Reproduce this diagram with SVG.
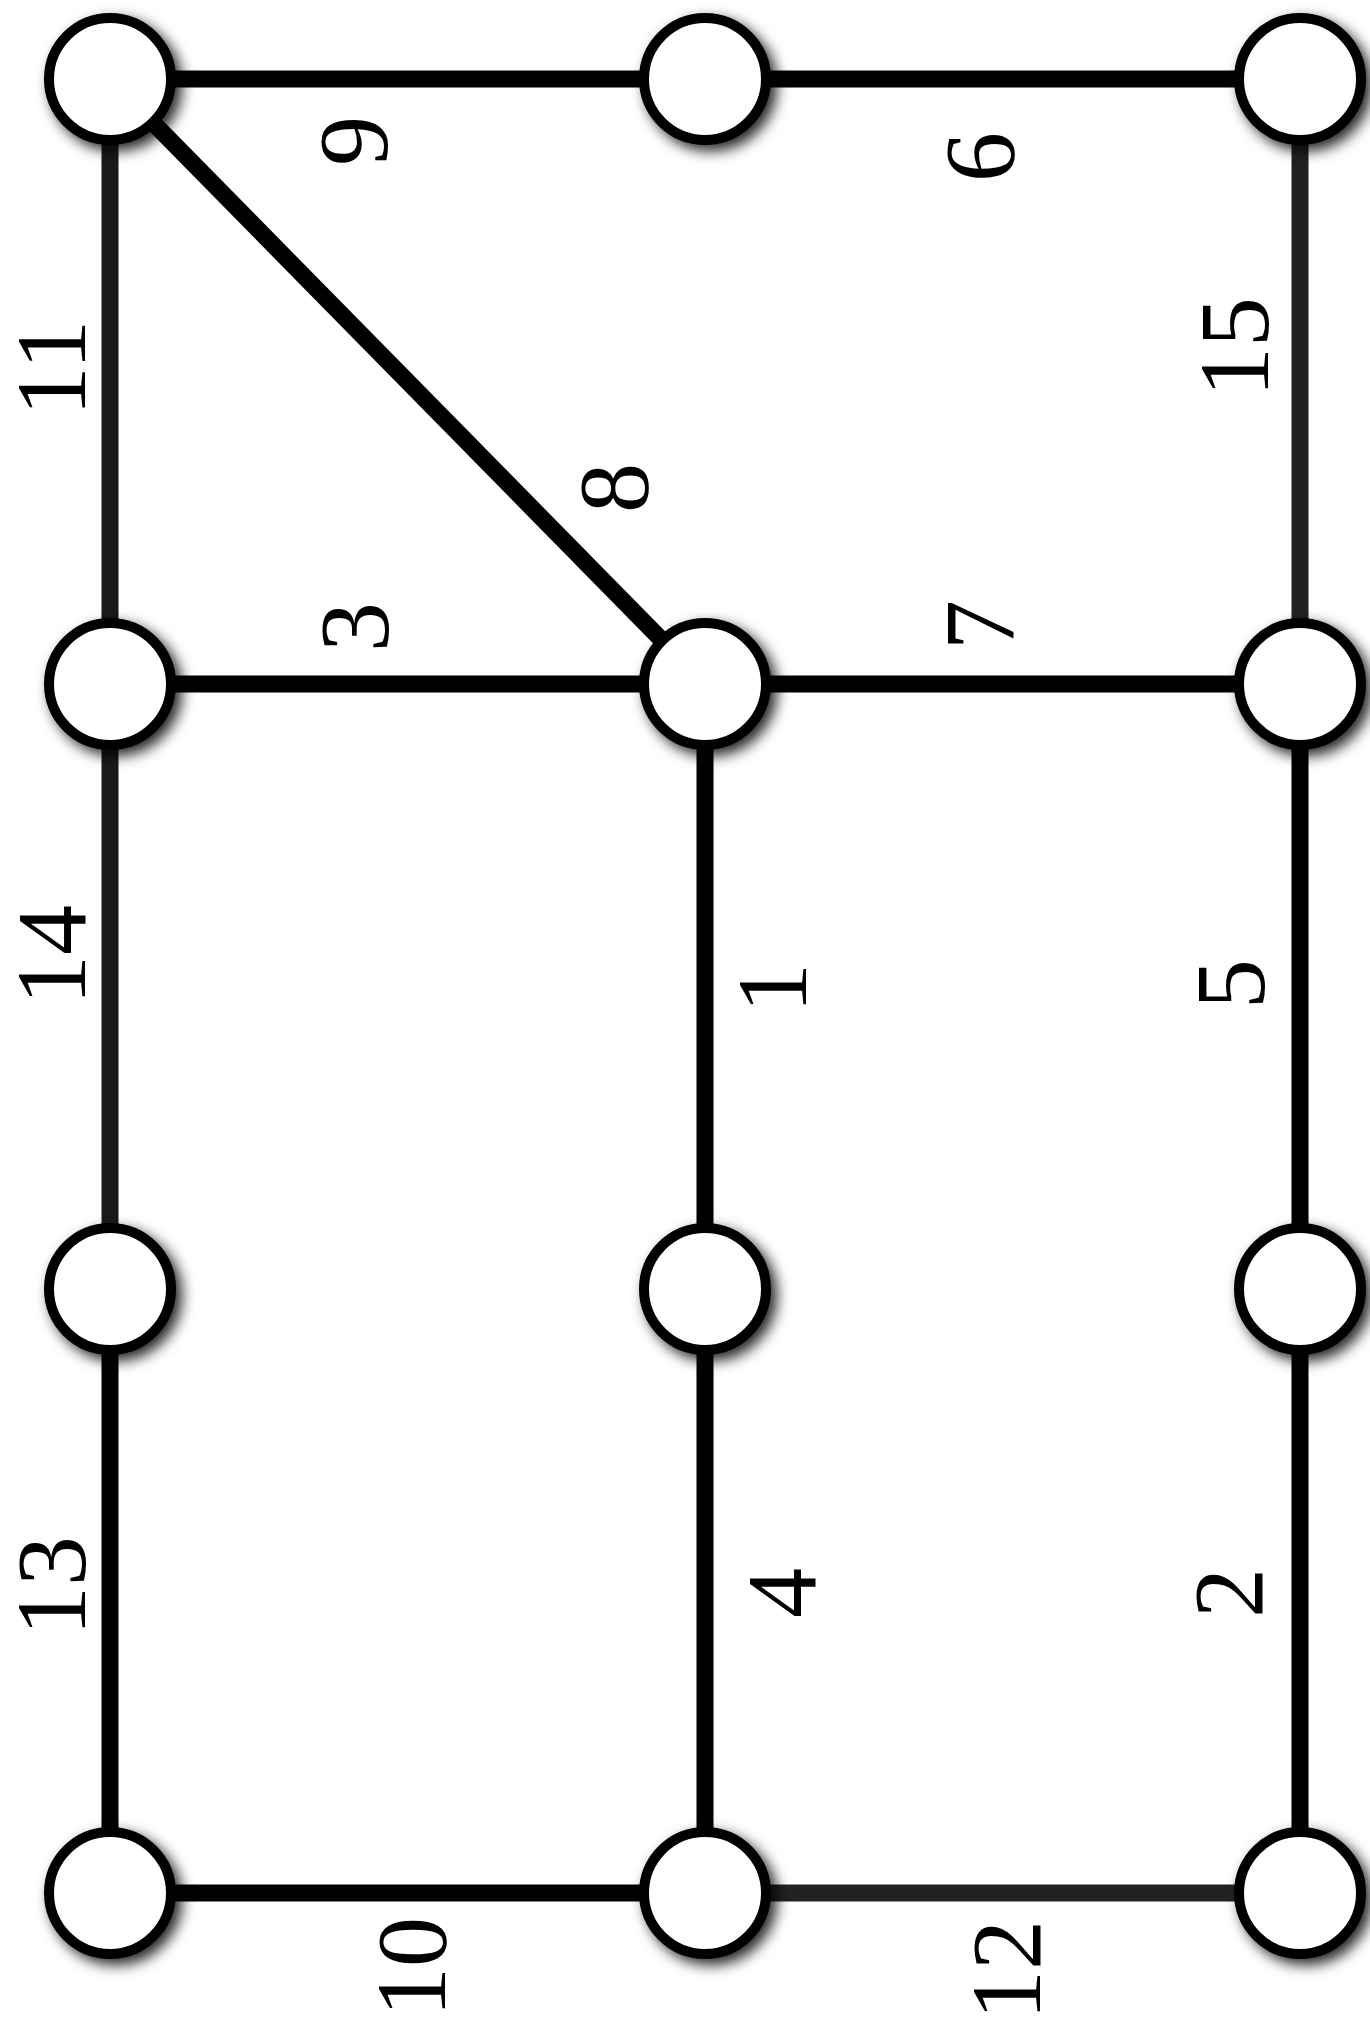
<svg xmlns="http://www.w3.org/2000/svg" width="1370" height="2022" viewBox="0 0 1370 2022">
<style>
.e{stroke:#000;stroke-width:17;fill:none}
.g1{stroke:#1a1a1a}
.g2{stroke:#222}
.n{fill:#fff;stroke:#000;stroke-width:10;filter:url(#sh)}
.l{font-family:"Liberation Serif","Times New Roman",serif;font-size:100px;fill:#000;text-anchor:middle}
</style>
<defs>
<filter id="sh" x="-50%" y="-50%" width="200%" height="200%">
<feDropShadow dx="6" dy="6" stdDeviation="7" flood-color="#000" flood-opacity="0.85"/>
</filter>
</defs>
<rect width="1370" height="2022" fill="#fff"/>
<g id="edges">
<line class="e" x1="110" y1="79" x2="705" y2="79"/>
<line class="e" x1="705" y1="79" x2="1300" y2="79"/>
<line class="e g1" x1="110" y1="79" x2="110" y2="684"/>
<line class="e" x1="110" y1="79" x2="705" y2="684"/>
<line class="e g2" x1="1300" y1="79" x2="1300" y2="684"/>
<line class="e" x1="110" y1="684" x2="705" y2="684"/>
<line class="e" x1="705" y1="684" x2="1300" y2="684"/>
<line class="e g1" x1="110" y1="684" x2="110" y2="1289"/>
<line class="e" x1="705" y1="684" x2="705" y2="1289"/>
<line class="e" x1="1300" y1="684" x2="1300" y2="1289"/>
<line class="e" x1="110" y1="1289" x2="110" y2="1893"/>
<line class="e" x1="705" y1="1289" x2="705" y2="1893"/>
<line class="e" x1="1300" y1="1289" x2="1300" y2="1893"/>
<line class="e" x1="110" y1="1893" x2="705" y2="1893"/>
<line class="e g2" x1="705" y1="1893" x2="1300" y2="1893"/>
</g>
<g id="labels">
<text class="l" transform="translate(85,368) rotate(-90)">11</text>
<text class="l" transform="translate(387,141) rotate(-90)">9</text>
<text class="l" transform="translate(1013,157) rotate(-90)">6</text>
<text class="l" transform="translate(1268,347) rotate(-90)">15</text>
<text class="l" transform="translate(647,488) rotate(-90)">8</text>
<text class="l" transform="translate(388,627) rotate(-90)">3</text>
<text class="l" transform="translate(1013,625) rotate(-90)">7</text>
<text class="l" transform="translate(85,955) rotate(-90)">14</text>
<text class="l" transform="translate(806,988) rotate(-90)">1</text>
<text class="l" transform="translate(1264,984) rotate(-90)">5</text>
<text class="l" transform="translate(85,1586) rotate(-90)">13</text>
<text class="l" transform="translate(815,1593) rotate(-90)">4</text>
<text class="l" transform="translate(1262,1593) rotate(-90)">2</text>
<text class="l" transform="translate(445,1967) rotate(-90)">10</text>
<text class="l" transform="translate(1040,1970) rotate(-90)">12</text>
</g>
<g id="n1"><circle class="n" cx="110" cy="79" r="61"/></g>
<g id="n2"><circle class="n" cx="705" cy="79" r="61"/></g>
<g id="n3"><circle class="n" cx="1300" cy="79" r="61"/></g>
<g id="n4"><circle class="n" cx="110" cy="684" r="61"/></g>
<g id="n5"><circle class="n" cx="705" cy="684" r="61"/></g>
<g id="n6"><circle class="n" cx="1300" cy="684" r="61"/></g>
<g id="n7"><circle class="n" cx="110" cy="1289" r="61"/></g>
<g id="n8"><circle class="n" cx="705" cy="1289" r="61"/></g>
<g id="n9"><circle class="n" cx="1300" cy="1289" r="61"/></g>
<g id="n10"><circle class="n" cx="110" cy="1893" r="61"/></g>
<g id="n11"><circle class="n" cx="705" cy="1893" r="61"/></g>
<g id="n12"><circle class="n" cx="1300" cy="1893" r="61"/></g>
</svg>
